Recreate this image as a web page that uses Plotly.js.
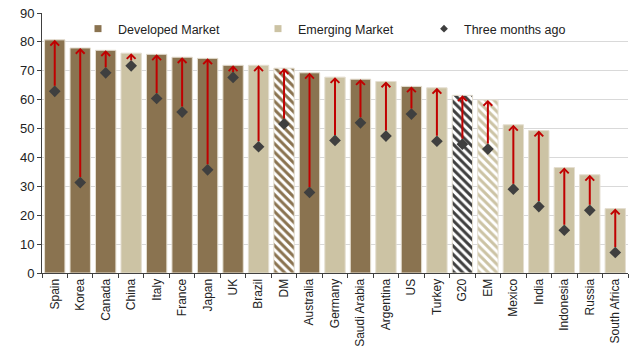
<!DOCTYPE html>
<html>
<head>
<meta charset="utf-8">
<script src="https://cdn.plot.ly/plotly-3.0.1.min.js"></script>
<style>
  html, body { margin: 0; padding: 0; background: #fff; }
  #chart { width: 630px; height: 352px; }
</style>
</head>
<body>
<div id="chart"></div>
<script>
// Countries and aggregates, ranked by current reading
const categories = ['Spain', 'Korea', 'Canada', 'China', 'Italy', 'France', 'Japan', 'UK', 'Brazil', 'DM',
  'Australia', 'Germany', 'Saudi Arabia', 'Argentina', 'US', 'Turkey', 'G20', 'EM', 'Mexico', 'India',
  'Indonesia', 'Russia', 'South Africa'];

// Current value (bar height)
const currentValues = [80.7, 77.9, 77.1, 76.1, 75.7, 74.7, 74.3, 71.9, 71.9, 70.9,
  69.3, 67.8, 67.1, 66.3, 64.6, 64.1, 61.5, 59.9, 51.3, 49.3,
  36.5, 34.0, 22.3];

// Value three months ago (diamond)
const threeMonthsAgo = [62.9, 31.3, 69.3, 71.7, 60.4, 55.7, 35.7, 67.7, 43.7, 51.6,
  27.9, 45.9, 52.0, 47.4, 55.0, 45.6, 44.6, 42.9, 29.0, 23.0,
  14.8, 21.7, 7.1];

// Market group of each category
const marketGroup = ['Developed', 'Developed', 'Developed', 'Emerging', 'Developed', 'Developed', 'Developed', 'Developed', 'Emerging', 'DM',
  'Developed', 'Emerging', 'Developed', 'Emerging', 'Developed', 'Emerging', 'G20', 'EM', 'Emerging', 'Emerging',
  'Emerging', 'Emerging', 'Emerging'];

const yTicks = [0, 10, 20, 30, 40, 50, 60, 70, 80, 90];

const BROWN = '#8A7350';
const BEIGE = '#CCC3A4';
const DARK = '#3F3F3F';
const RED = '#C00000';
const EDGE = '#E4DED0';

function pick(arr, keep) {
  return arr.filter((_, i) => keep(marketGroup[i]));
}

const solidBar = (name, color) => ({
  type: 'bar',
  name: name,
  x: pick(categories, g => g === name),
  y: pick(currentValues, g => g === name),
  marker: { color: color, line: { color: EDGE, width: 1 } },
  showlegend: false,
  hoverinfo: 'skip'
});

// Aggregates drawn with diagonal hatching
const aggColors = { DM: BROWN, G20: DARK, EM: BEIGE };
const isAgg = g => g in aggColors;
const aggGroups = marketGroup.filter(isAgg);
const hatchedBar = {
  type: 'bar',
  name: 'Aggregates',
  x: pick(categories, isAgg),
  y: pick(currentValues, isAgg),
  marker: {
    color: '#ffffff',
    line: { color: EDGE, width: 1 },
    pattern: {
      shape: '\\',
      fgcolor: aggGroups.map(g => aggColors[g]),
      bgcolor: '#ffffff',
      fillmode: 'replace',
      size: 6,
      solidity: 0.5
    }
  },
  showlegend: false,
  hoverinfo: 'skip'
};

const diamonds = {
  type: 'scatter',
  mode: 'markers',
  name: 'Three months ago',
  x: categories,
  y: threeMonthsAgo,
  marker: { symbol: 'diamond', size: 9, color: DARK },
  showlegend: false,
  hoverinfo: 'skip'
};

// Legend-only entries with small square / diamond symbols
const legendEntry = (name, symbol, color, size, legendId) => ({
  type: 'scatter',
  mode: 'markers',
  name: name,
  x: [null],
  y: [null],
  marker: { symbol: symbol, size: size, color: color },
  legend: legendId,
  showlegend: true,
  hoverinfo: 'skip'
});

const traces = [
  solidBar('Developed', BROWN),
  solidBar('Emerging', BEIGE),
  hatchedBar,
  diamonds,
  legendEntry('Developed Market', 'square', BROWN, 7, 'legend'),
  legendEntry('Emerging Market', 'square', BEIGE, 7, 'legend2'),
  legendEntry('Three months ago', 'diamond', DARK, 6, 'legend3')
];

// Red arrows from the earlier value up to the current value
const arrows = categories.map((c, i) => ({
  x: i, y: currentValues[i],
  ax: i, ay: threeMonthsAgo[i],
  xref: 'x', yref: 'y', axref: 'x', ayref: 'y',
  text: '',
  showarrow: true,
  arrowhead: 4,
  arrowsize: 0.85,
  arrowwidth: 2,
  arrowcolor: RED,
  startstandoff: 4,
  standoff: 0
}));

const FONT = 'Liberation Sans, Arial, sans-serif';
const plotLeft = 42, plotRight = 2, plotTop = 13, plotBottom = 79;
const plotW = 630 - plotLeft - plotRight;
const plotH = 352 - plotTop - plotBottom;
const px2x = p => (p - plotLeft) / plotW;
const legendY = (352 - plotBottom - 29) / plotH;

const legendBase = {
  orientation: 'h',
  yanchor: 'middle',
  xanchor: 'left',
  y: legendY,
  bgcolor: 'rgba(0,0,0,0)',
  borderwidth: 0,
  font: { family: FONT, size: 12.5, color: '#222' },
  itemwidth: 30
};

const layout = {
  width: 630,
  height: 352,
  margin: { l: plotLeft, r: plotRight, t: plotTop, b: plotBottom, pad: 0 },
  paper_bgcolor: '#ffffff',
  plot_bgcolor: '#ffffff',
  font: { family: FONT, size: 12, color: '#222' },
  barmode: 'overlay',
  bargap: 0.2,
  showlegend: true,
  legend: Object.assign({}, legendBase, { x: px2x(78) }),
  legend2: Object.assign({}, legendBase, { x: px2x(258) }),
  legend3: Object.assign({}, legendBase, { x: px2x(424) }),
  xaxis: {
    type: 'category',
    categoryorder: 'array',
    categoryarray: categories,
    range: [-0.5, categories.length - 0.5],
    tickangle: -90,
    tickfont: { family: FONT, size: 12, color: '#222' },
    ticks: 'outside',
    tickson: 'boundaries',
    ticklen: 4,
    tickcolor: '#404040',
    showline: true,
    linecolor: '#404040',
    linewidth: 1,
    showgrid: false,
    zeroline: false,
    fixedrange: true
  },
  yaxis: {
    range: [0, 90],
    tickvals: yTicks,
    tickfont: { family: FONT, size: 13, color: '#222' },
    ticks: 'outside',
    ticklen: 4,
    tickcolor: '#404040',
    showline: true,
    linecolor: '#404040',
    linewidth: 1,
    showgrid: true,
    gridcolor: '#D9D9D9',
    gridwidth: 1,
    zeroline: false,
    fixedrange: true
  },
  annotations: arrows
};

Plotly.newPlot('chart', traces, layout, { staticPlot: true, displayModeBar: false });
</script>
</body>
</html>
